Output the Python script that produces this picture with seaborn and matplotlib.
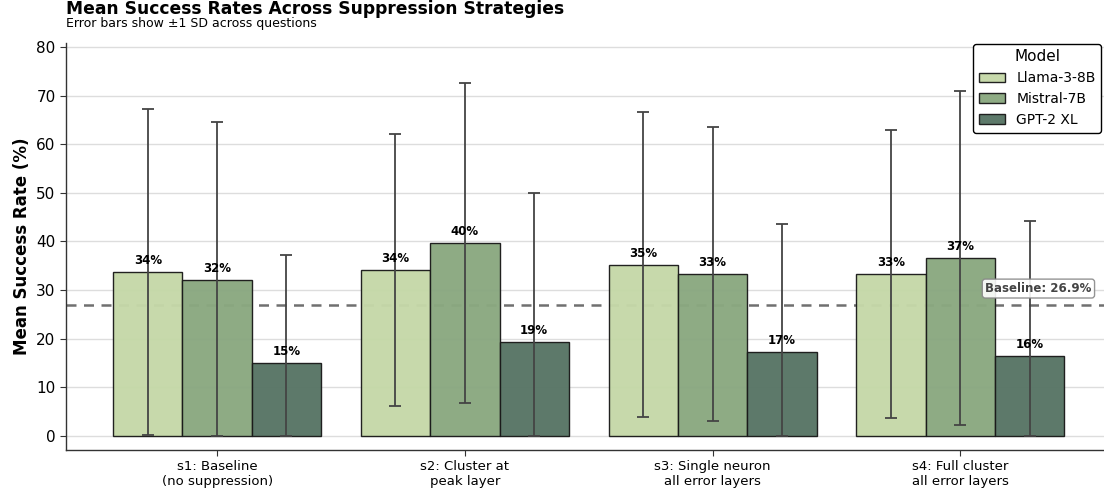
import numpy as np
import pandas as pd
import matplotlib
matplotlib.use("Agg")
import matplotlib.pyplot as plt
import seaborn as sns

strategies = ["s1: Baseline\n(no suppression)", "s2: Cluster at\npeak layer",
              "s3: Single neuron\nall error layers", "s4: Full cluster\nall error layers"]
models = ["Llama-3-8B", "Mistral-7B", "GPT-2 XL"]
llama_mean = [33.7, 34.1, 35.2, 33.3]
mistral_mean = [32.1, 39.7, 33.3, 36.6]
gpt2_mean = [15.0, 19.3, 17.3, 16.4]
llama_sd = [33.5, 28.0, 31.4, 29.6]
mistral_sd = [32.5, 32.9, 30.2, 34.3]
gpt2_sd = [22.2, 30.7, 26.3, 27.8]
baseline = 26.9
palette = ["#c5d8a8", "#8aa880", "#587565"]

means = {"Llama-3-8B": llama_mean, "Mistral-7B": mistral_mean, "GPT-2 XL": gpt2_mean}
sds = {"Llama-3-8B": llama_sd, "Mistral-7B": mistral_sd, "GPT-2 XL": gpt2_sd}

df = pd.DataFrame([
    {"Strategy": s, "Model": m, "Rate": means[m][i]}
    for m in models for i, s in enumerate(strategies)
])

sns.set_style("white")
plt.rcParams["font.family"] = ["DejaVu Sans"]
plt.rcParams["text.color"] = "black"
plt.rcParams["axes.labelcolor"] = "black"
plt.rcParams["xtick.color"] = "black"
plt.rcParams["ytick.color"] = "black"

fig = plt.figure(figsize=(11.04, 4.9), dpi=100)
ax = fig.add_axes([66 / 1104, 40 / 490, (1104 - 66) / 1104, (450 - 43) / 490])

sns.barplot(data=df, x="Strategy", y="Rate", hue="Model", hue_order=models,
            order=strategies, palette=palette, saturation=1, width=0.84,
            errorbar=None, edgecolor="#1a1a1a", linewidth=1.0, ax=ax, zorder=2)
for patch in ax.patches:
    patch.set_alpha(0.97)

# error bars (±1 SD, clipped at zero) and value labels
for container, m in zip(ax.containers, models):
    for i, bar in enumerate(container):
        h = means[m][i]
        sd = sds[m][i]
        cx = bar.get_x() + bar.get_width() / 2
        lower = min(sd, h)
        ax.errorbar(cx, h, yerr=[[lower], [sd]], fmt="none", ecolor="#444444",
                    elinewidth=1.3, capsize=4.5, capthick=1.3, zorder=4)
        ax.text(cx, h + 1.0, f"{h:.0f}%", ha="center", va="bottom",
                fontsize=8.5, fontweight="bold", color="black", zorder=5)

ax.axhline(baseline, color="#707070", linestyle="--", linewidth=1.8,
           dashes=(4, 3), zorder=1)
ax.text(3.53, baseline + 3.4, f"Baseline: {baseline}%", ha="right", va="center",
        fontsize=8.5, fontweight="bold", color="#444444", zorder=6,
        bbox=dict(boxstyle="round,pad=0.25", facecolor="white",
                  edgecolor="#888888", linewidth=1.0, alpha=0.9))

ax.set_xlim(-0.61, 3.58)
ax.set_ylim(-2.9, 80.8)
ax.set_yticks(np.arange(0, 81, 10))
ax.yaxis.grid(True, color="#dddddd", linewidth=1.0, zorder=0)
ax.set_axisbelow(True)
ax.set_xlabel("")
ax.set_ylabel("Mean Success Rate (%)", fontsize=12, fontweight="bold")
ax.tick_params(axis="y", labelsize=11, length=4, color="#333333", left=True)
ax.tick_params(axis="x", labelsize=9.5, length=4, color="#333333", bottom=True)
for sp in ["top", "right"]:
    ax.spines[sp].set_visible(False)
for sp in ["left", "bottom"]:
    ax.spines[sp].set_color("#333333")
    ax.spines[sp].set_linewidth(1.0)

leg = ax.legend(title="Model", loc="upper right", bbox_to_anchor=(1.0, 1.005),
                fontsize=10, title_fontsize=11, frameon=True, framealpha=1,
                edgecolor="black", fancybox=True, borderaxespad=0.2,
                handlelength=1.9)
leg.get_frame().set_linewidth(1.0)

fig.text(66 / 1104, 1 - 14.5 / 490, "Mean Success Rates Across Suppression Strategies",
         fontsize=12.3, fontweight="bold", ha="left", va="baseline")
fig.text(66 / 1104, 1 - 27.5 / 490, "Error bars show \u00b11 SD across questions",
         fontsize=9, ha="left", va="baseline")

fig.savefig("out.png", dpi=100)
